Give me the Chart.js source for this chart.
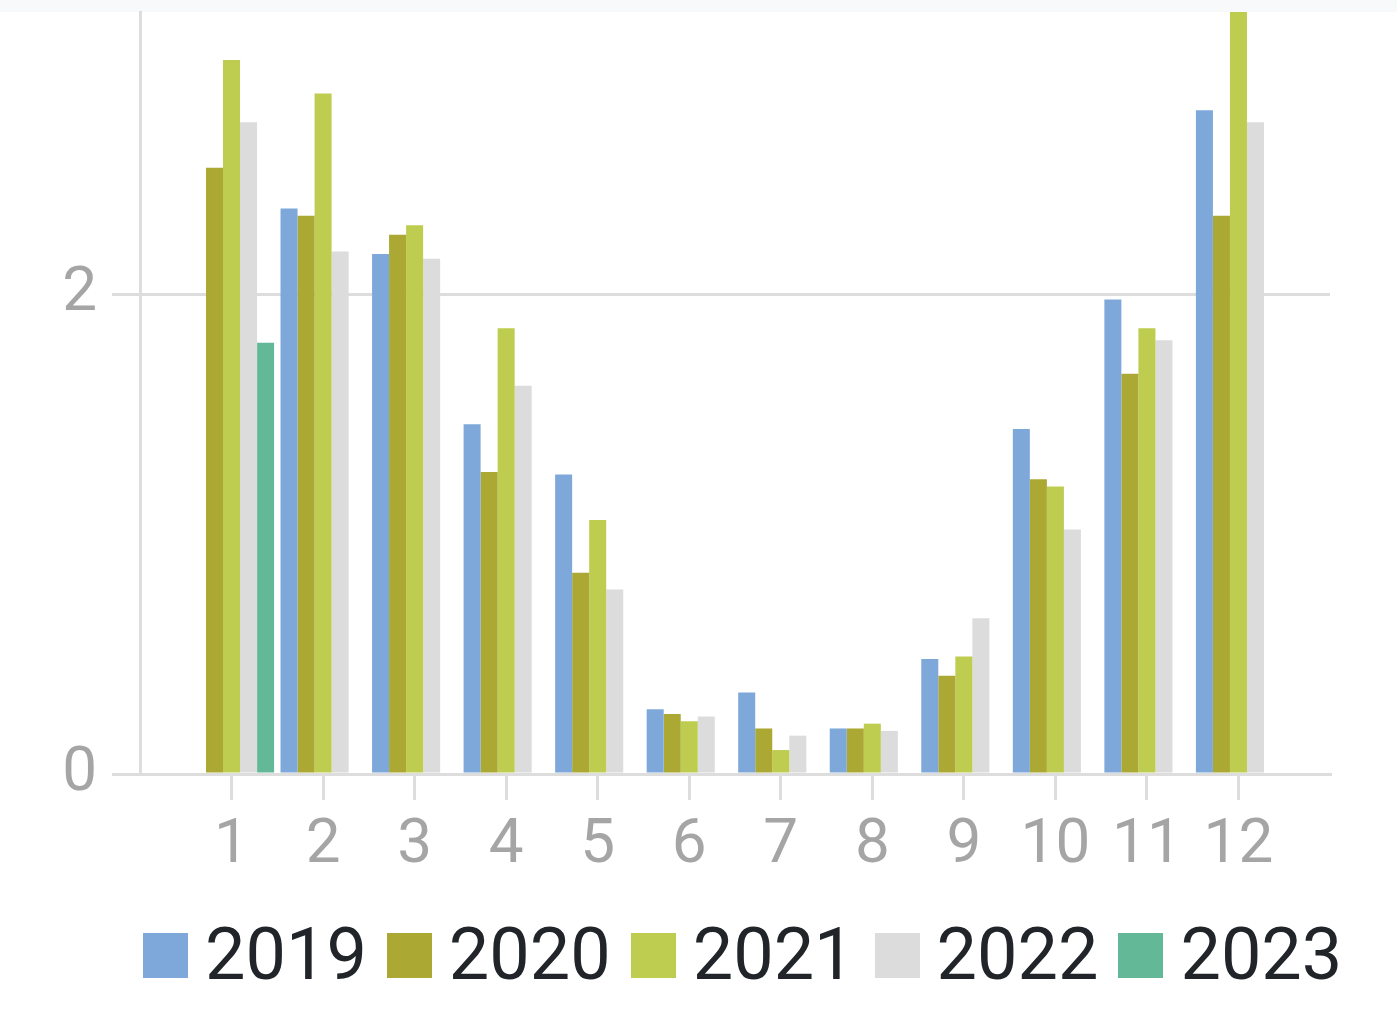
<!DOCTYPE html>
<html>
<head>
<meta charset="utf-8">
<script src="https://cdn.jsdelivr.net/npm/chart.js@4/dist/chart.umd.min.js"></script>
<style>
  html, body { margin: 0; padding: 0; background: #ffffff; }
  #band { position: absolute; left: 0; top: 0; width: 1397px; height: 12px; background: #f8f9fb; }
  #wrap { position: absolute; left: 0; top: 0; width: 1397px; height: 1020px; }
  #legend { position: absolute; left: 143px; top: 919px; height: 72px; display: flex; align-items: center;
            font-family: Roboto, sans-serif; font-size: 72px; line-height: 72px; color: #212529; }
  #legend .item { display: flex; align-items: center; margin-right: 20px; }
  #legend .box { width: 45px; height: 45px; margin-right: 17px; }
</style>
</head>
<body>
<div id="band"></div>
<div id="wrap"><canvas id="chart"></canvas></div>
<div id="legend"></div>
<script>
var months = [1, 2, 3, 4, 5, 6, 7, 8, 9, 10, 11, 12];
var years = ["2019", "2020", "2021", "2022", "2023"];
var s2019 = [null, 2.36, 2.17, 1.46, 1.25, 0.27, 0.34, 0.19, 0.48, 1.44, 1.98, 2.77];
var s2020 = [2.53, 2.33, 2.25, 1.26, 0.84, 0.25, 0.19, 0.19, 0.41, 1.23, 1.67, 2.33];
var s2021 = [2.98, 2.84, 2.29, 1.86, 1.06, 0.22, 0.10, 0.21, 0.49, 1.20, 1.86, 3.20];
var s2022 = [2.72, 2.18, 2.15, 1.62, 0.77, 0.24, 0.16, 0.18, 0.65, 1.02, 1.81, 2.72];
var s2023 = [1.80, null, null, null, null, null, null, null, null, null, null, null];
var yTicks = [0, 2];

var colors = ["#7fa8da", "#aba833", "#becc50", "#dcdcdc", "#63b897"];
var series = [s2019, s2020, s2021, s2022, s2023];
var axisColor = "#dddddd";
var tickFont = { family: "Roboto", size: 62 };

var datasets = years.map(function (y, i) {
  return {
    label: y,
    data: series[i],
    backgroundColor: colors[i],
    borderWidth: 0,
    categoryPercentage: 0.93,
    barPercentage: 1,
    clip: 0
  };
});

// legend drawn as html so the box/text gap can match
var htmlLegend = {
  id: "htmlLegend",
  afterUpdate: function (chart) {
    var el = document.getElementById("legend");
    el.innerHTML = "";
    chart.data.datasets.forEach(function (ds) {
      var item = document.createElement("div");
      item.className = "item";
      var box = document.createElement("span");
      box.className = "box";
      box.style.background = ds.backgroundColor;
      var txt = document.createElement("span");
      txt.textContent = ds.label;
      item.appendChild(box);
      item.appendChild(txt);
      el.appendChild(item);
    });
  }
};

new Chart(document.getElementById("chart"), {
  type: "bar",
  data: { labels: months, datasets: datasets },
  plugins: [htmlLegend],
  options: {
    responsive: true,
    maintainAspectRatio: false,
    animation: false,
    layout: { padding: { top: 12, right: 67, left: 0, bottom: 109 } },
    plugins: {
      tooltip: { enabled: false },
      legend: { display: false }
    },
    scales: {
      x: {
        type: "linear",
        offset: false,
        min: 0,
        max: months.length + 1,
        afterFit: function (s) { s.height = 137; s.paddingLeft = 0; s.paddingRight = 0; },
        border: { color: axisColor, width: 3 },
        grid: {
          offset: false,
          drawOnChartArea: false,
          lineWidth: 3,
          tickLength: 26,
          tickColor: function (c) {
            return c.tick && months.indexOf(c.tick.value) >= 0 ? axisColor : "rgba(0,0,0,0)";
          }
        },
        ticks: {
          stepSize: 1,
          autoSkip: false,
          maxRotation: 0,
          padding: 9,
          color: "#a5a5a5",
          font: tickFont,
          callback: function (v) { return months.indexOf(v) >= 0 ? String(v) : ""; }
        }
      },
      y: {
        min: 0,
        max: 3.18,
        afterFit: function (s) { s.width = 140; s.paddingTop = 0; s.paddingBottom = 0; },
        border: { color: axisColor, width: 3 },
        grid: { color: axisColor, lineWidth: 3, tickLength: 28 },
        afterBuildTicks: function (s) {
          s.ticks = yTicks.map(function (v) { return { value: v }; });
        },
        ticks: {
          padding: 15,
          color: "#a5a5a5",
          font: tickFont
        }
      }
    }
  }
});
</script>
</body>
</html>
